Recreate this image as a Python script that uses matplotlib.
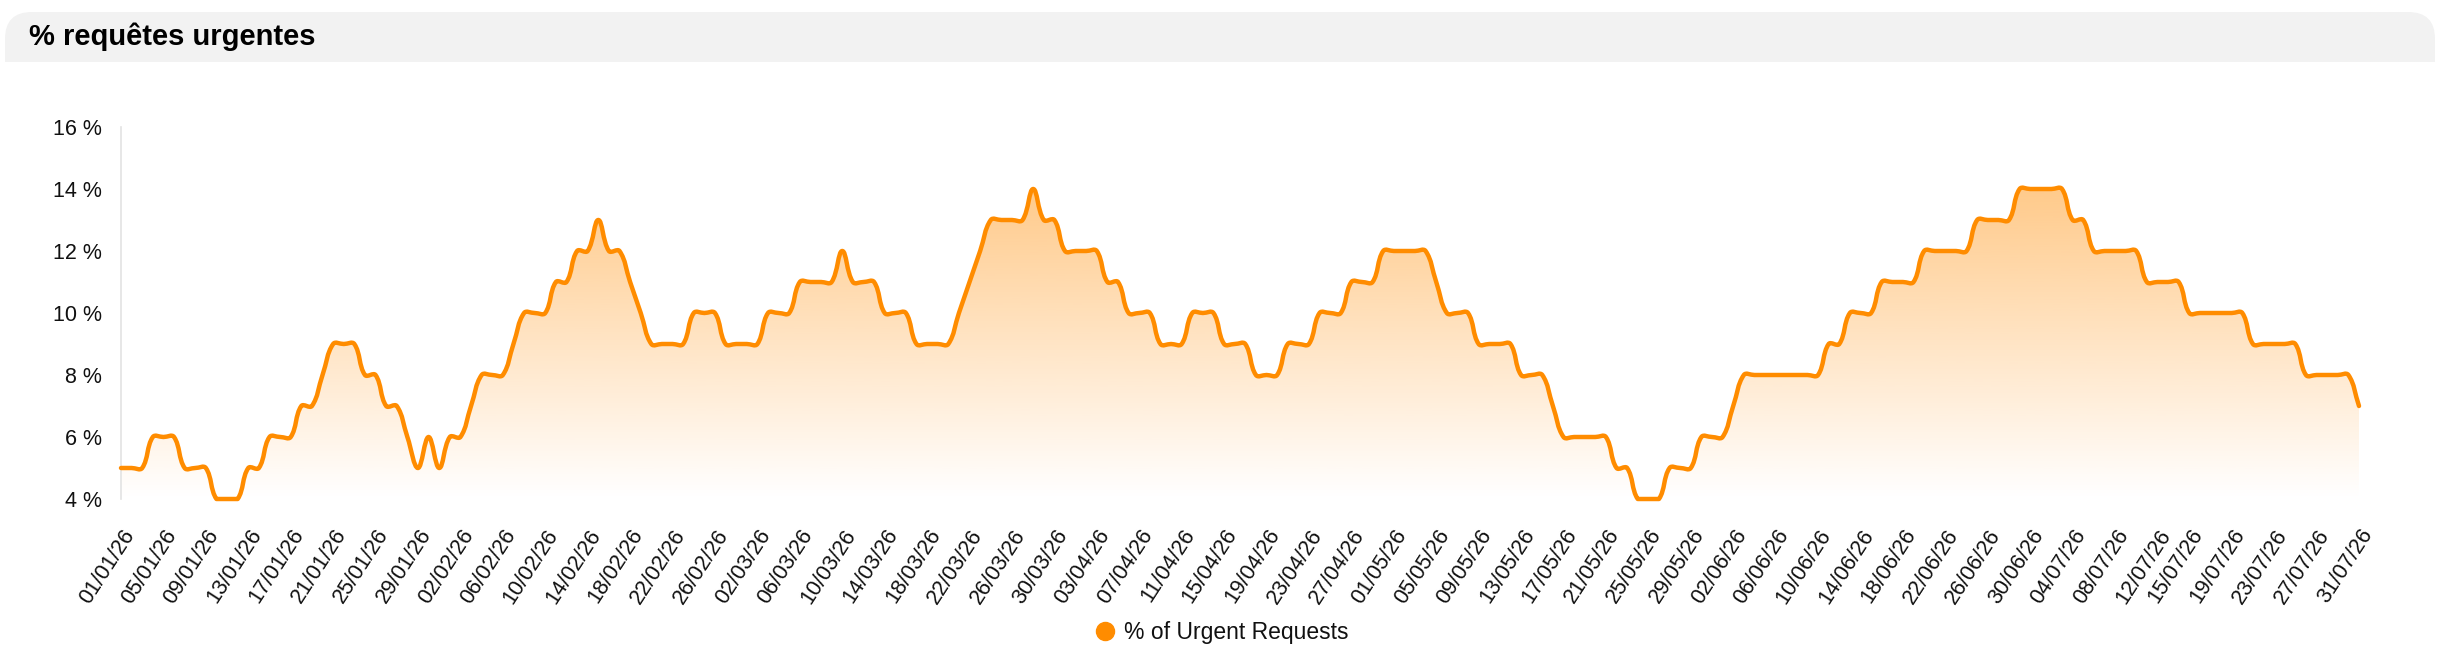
import numpy as np
import pandas as pd
import matplotlib
matplotlib.use("Agg")
import matplotlib.pyplot as plt
from matplotlib.path import Path
from matplotlib.patches import PathPatch, FancyBboxPatch, Rectangle
from matplotlib.lines import Line2D
from matplotlib.colors import to_rgb

plt.rcParams['font.family'] = ['Liberation Sans', 'DejaVu Sans']

# ---------------- data ----------------
days = [d.strftime('%d/%m/%y') for d in pd.date_range('2026-01-01', '2026-07-31', freq='D')]

jan = [5, 5, 5, 6, 6, 6, 5, 5, 5, 4, 4, 4, 5, 5, 6, 6, 6, 7, 7, 8, 9, 9, 9, 8, 8, 7, 7, 6, 5, 6, 5]
feb = [6, 6, 7, 8, 8, 8, 9, 10, 10, 10, 11, 11, 12, 12, 13, 12, 12, 11, 10, 9, 9, 9, 9, 10, 10, 10, 9, 9]
mar = [9, 9, 10, 10, 10, 11, 11, 11, 11, 12, 11, 11, 11, 10, 10, 10, 9, 9, 9, 9, 10, 11, 12, 13, 13, 13, 13, 14, 13, 13, 12]
apr = [12, 12, 12, 11, 11, 10, 10, 10, 9, 9, 9, 10, 10, 10, 9, 9, 9, 8, 8, 8, 9, 9, 9, 10, 10, 10, 11, 11, 11, 12]
may = [12, 12, 12, 12, 11, 10, 10, 10, 9, 9, 9, 9, 8, 8, 8, 7, 6, 6, 6, 6, 6, 5, 5, 4, 4, 4, 5, 5, 5, 6, 6]
jun = [6, 7, 8, 8, 8, 8, 8, 8, 8, 8, 9, 9, 10, 10, 10, 11, 11, 11, 11, 12, 12, 12, 12, 12, 13, 13, 13, 13, 14, 14]
jul = [14, 14, 14, 13, 13, 12, 12, 12, 12, 12, 11, 11, 11, 11, 10, 10, 10, 10, 10, 10, 9, 9, 9, 9, 9, 8, 8, 8, 8, 8, 7]
urgent_pct = jan + feb + mar + apr + may + jun + jul

tick_labels = ['01/01/26', '05/01/26', '09/01/26', '13/01/26', '17/01/26', '21/01/26', '25/01/26',
               '29/01/26', '02/02/26', '06/02/26', '10/02/26', '14/02/26', '18/02/26', '22/02/26',
               '26/02/26', '02/03/26', '06/03/26', '10/03/26', '14/03/26', '18/03/26', '22/03/26',
               '26/03/26', '30/03/26', '03/04/26', '07/04/26', '11/04/26', '15/04/26', '19/04/26',
               '23/04/26', '27/04/26', '01/05/26', '05/05/26', '09/05/26', '13/05/26', '17/05/26',
               '21/05/26', '25/05/26', '29/05/26', '02/06/26', '06/06/26', '10/06/26', '14/06/26',
               '18/06/26', '22/06/26', '26/06/26', '30/06/26', '04/07/26', '08/07/26', '12/07/26',
               '15/07/26', '19/07/26', '23/07/26', '27/07/26', '31/07/26']
y_ticks = [4, 6, 8, 10, 12, 14, 16]

title = '% requêtes urgentes'
series_name = '% of Urgent Requests'
ORANGE = '#FF8C00'

# ---------------- figure ----------------
W, H = 2440, 664
fig = plt.figure(figsize=(W / 100, H / 100), dpi=100)
fig.patch.set_facecolor('white')

# title bar
bar_l, bar_r, bar_t, bar_b = 5, 2435, 12, 62
fig.patches.append(FancyBboxPatch((bar_l / W, 1 - bar_b / H), (bar_r - bar_l) / W, (bar_b - bar_t) / H,
                                  boxstyle='round,pad=0,rounding_size=0.011', transform=fig.transFigure,
                                  facecolor='#f2f2f2', edgecolor='none', mutation_aspect=W / H))
fig.patches.append(Rectangle((bar_l / W, 1 - bar_b / H), (bar_r - bar_l) / W, 25 / H,
                             transform=fig.transFigure, facecolor='#f2f2f2', edgecolor='none'))
fig.text(29 / W, 1 - 37 / H, title, fontsize=21, fontweight='bold', color='#000000',
         ha='left', va='center')

# axes
x0, x1, yt, yb = 121, 2359, 127, 499
ax = fig.add_axes([x0 / W, 1 - yb / H, (x1 - x0) / W, (yb - yt) / H])
n = len(urgent_pct)
xs = np.arange(n, dtype=float)
ys = np.array(urgent_pct, dtype=float)
ax.set_xlim(0, n - 1)
ax.set_ylim(4, 16)

# Chart.js style bezier (tension 0.4) computed in pixel space
pts = ax.transData.transform(np.column_stack([xs, ys]))
t = 0.4
cp_prev = np.zeros_like(pts)
cp_next = np.zeros_like(pts)
for i in range(n):
    p = pts[max(i - 1, 0)]
    c = pts[i]
    q = pts[min(i + 1, n - 1)]
    d01 = np.hypot(*(c - p))
    d12 = np.hypot(*(q - c))
    tot = d01 + d12
    s01 = d01 / tot if tot else 0
    s12 = d12 / tot if tot else 0
    cp_prev[i] = c - t * s01 * (q - p)
    cp_next[i] = c + t * s12 * (q - p)
top_px = ax.transData.transform((0, 16))[1]
bot_px = ax.transData.transform((0, 4))[1]
cp_prev[:, 1] = np.clip(cp_prev[:, 1], bot_px, top_px)
cp_next[:, 1] = np.clip(cp_next[:, 1], bot_px, top_px)

verts = [pts[0]]
codes = [Path.MOVETO]
for i in range(n - 1):
    verts += [cp_next[i], cp_prev[i + 1], pts[i + 1]]
    codes += [Path.CURVE4] * 3
inv = ax.transData.inverted()
verts_d = inv.transform(np.array(verts))

line_path = Path(verts_d, codes)
fill_verts = np.vstack([verts_d, [[n - 1, 4], [0, 4], verts_d[0]]])
fill_codes = codes + [Path.LINETO, Path.LINETO, Path.CLOSEPOLY]
fill_path = Path(fill_verts, fill_codes)

# gradient fill
r, g, b = to_rgb(ORANGE)
grad = np.zeros((256, 1, 4))
grad[:, 0, 0] = r
grad[:, 0, 1] = g
grad[:, 0, 2] = b
grad[:, 0, 3] = np.linspace(0.55, 0.0, 256)
im = ax.imshow(grad, extent=[0, n - 1, 4, 16], origin='upper', aspect='auto', zorder=1,
               interpolation='bicubic')
clip_patch = PathPatch(fill_path, facecolor='none', edgecolor='none', transform=ax.transData)
ax.add_patch(clip_patch)
im.set_clip_path(clip_patch)

ax.add_patch(PathPatch(line_path, facecolor='none', edgecolor=ORANGE, lw=3.2,
                       capstyle='round', joinstyle='round', zorder=3, clip_on=False))

# axes styling
for s in ['top', 'right', 'bottom']:
    ax.spines[s].set_visible(False)
ax.spines['left'].set_color('#e3e3e3')
ax.spines['left'].set_linewidth(1.2)
ax.set_yticks(y_ticks)
ax.set_yticklabels([f'{v} %' for v in y_ticks])
ax.tick_params(axis='y', length=0, pad=14, labelsize=15.5, labelcolor='#111111')
tick_pos = [days.index(lbl) for lbl in tick_labels]
ax.set_xticks(tick_pos)
ax.set_xticklabels(tick_labels, rotation=57, ha='right', va='top', rotation_mode='anchor')
ax.tick_params(axis='x', length=0, pad=19, labelsize=15.5, labelcolor='#111111')
ax.set_facecolor('none')

# legend
handle = Line2D([], [], marker='o', linestyle='', color=ORANGE, markersize=13)
fig.legend([handle], [series_name], loc='center', bbox_to_anchor=(0.5, 1 - 633 / H),
           frameon=False, fontsize=16.5, handletextpad=0.2, handlelength=1.2,
           labelcolor='#111111')

fig.savefig('out.png', dpi=100, facecolor='white')
